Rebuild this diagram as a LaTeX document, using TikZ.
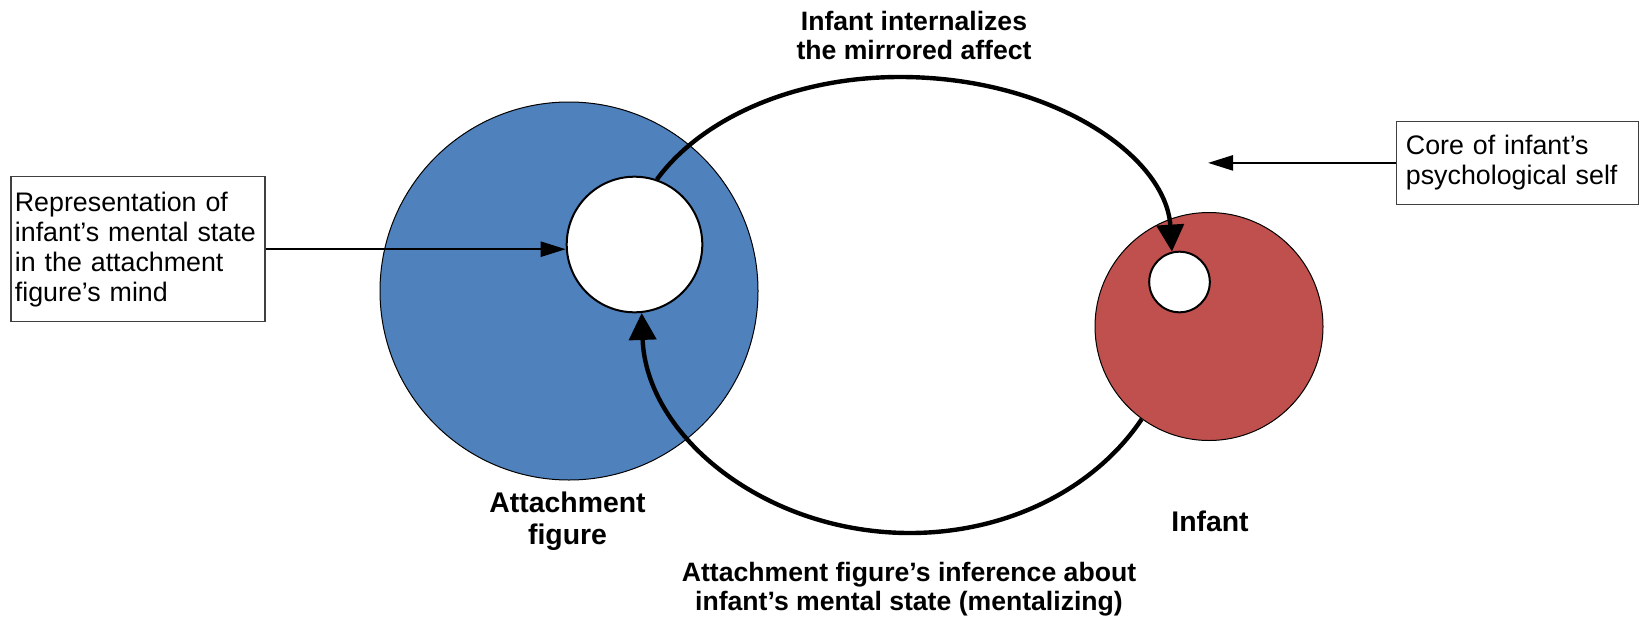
\documentclass[tikz,border=0pt]{standalone}
\usepackage{fontspec}
\setmainfont{Liberation Sans}
\usetikzlibrary{arrows.meta}
\definecolor{mindBlue}{HTML}{4F81BD}
\definecolor{infantRed}{HTML}{C0504D}
\definecolor{boxGray}{HTML}{404040}
\begin{document}
\begin{tikzpicture}[x=0.5pt, y=0.5pt,
    circleStyle/.style={circle, draw, inner sep=0pt, line width=0.5pt},
    holeStyle/.style={circle, draw, fill=white, inner sep=0pt, line width=1pt},
    boxStyle/.style={draw=boxGray, line width=0.6pt, align=left, inner ysep=0pt, font=\fontsize{13.4}{15}\selectfont},
    labelStyle/.style={align=center, inner sep=0pt, font=\bfseries\fontsize{13.3}{14.5}\selectfont},
    nameStyle/.style={align=center, inner sep=0pt, font=\bfseries\fontsize{14.2}{16}\selectfont},
    pointerStyle/.style={line width=1.2pt, -{Triangle[length=12.5pt, width=7.5pt]}},
    loopStyle/.style={line width=2.2pt, -{Triangle[length=13.5pt, width=13.5pt]}}]
  \useasboundingbox (0,0) rectangle (1641,-621);

  \node[circleStyle, fill=mindBlue, minimum size=189pt](attach) at (569,-291) {};
  \node[holeStyle, minimum size=67.8pt](repr) at (634.5,-244.5) {};
  \node[circleStyle, fill=infantRed, minimum size=114pt](infant) at (1209,-326.5) {};
  \node[holeStyle, minimum size=30.3pt](core) at (1179.5,-282) {};

  \coordinate (loopTop) at (900,-77);
  \coordinate (loopBottom) at (910,-533);
  \draw[loopStyle] (repr.71) .. controls (701,-119) and (793,-77) .. (loopTop)
    .. controls (1052,-77) and (1166,-156) .. (core.104);
  \draw[loopStyle] (infant.234) .. controls (1094,-490) and (1006,-533) .. (loopBottom)
    .. controls (765,-533) and (646,-436) .. (repr.-84);

  \node[boxStyle, text width=123pt, inner xsep=2pt, minimum height=72.5pt](reprNote) at (137.9,-249.2)
    {Representation of\\infant’s mental state\\in the attachment\\figure’s mind};
  \node[boxStyle, text width=111.5pt, inner xsep=4.6pt, minimum height=41.2pt](coreNote) at (1517.4,-162.9)
    {Core of infant’s\\psychological self};
  \coordinate (coreTip) at (1208,-162.9);

  \draw[pointerStyle] (reprNote.east) -- (reprNote.east -| repr.west);
  \draw[pointerStyle] (coreNote.west) -- (coreTip);

  \node[labelStyle](mirrorLabel) at (914,-35) {Infant internalizes\\the mirrored affect};
  \node[labelStyle](mentalLabel) at (909,-589) {Attachment figure’s inference about\\infant’s mental state (mentalizing)};
  \node[nameStyle](attachName) at (567.5,-521.7) {Attachment\\figure};
  \node[nameStyle, anchor=base](infantName) at (1210,-531.7) {Infant};
\end{tikzpicture}
\end{document}
